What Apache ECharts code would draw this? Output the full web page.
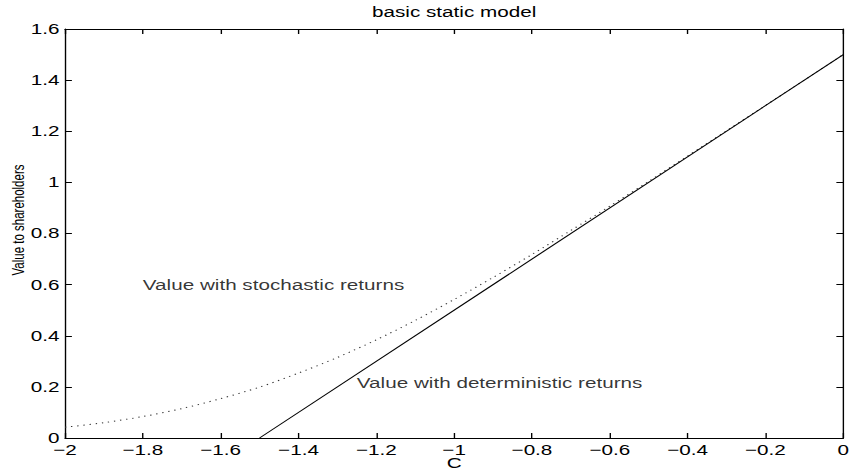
<!DOCTYPE html>
<html>
<head>
<meta charset="utf-8">
<script src="https://cdn.jsdelivr.net/npm/echarts@6/dist/echarts.min.js"></script>
<style>
  html, body { margin: 0; padding: 0; background: #fff; overflow: hidden; }
  /* the original figure is stretched sideways, so draw narrow and widen it */
  #chart { width: 617px; height: 471px; transform: scaleX(1.3792); transform-origin: 0 0; }
</style>
</head>
<body>
<div id="chart"></div>
<script>
// C values (x) and the two curves
const cValues = [-2, -1.9, -1.8, -1.7, -1.6, -1.5, -1.4, -1.3, -1.2, -1.1, -1, -0.9, -0.8, -0.7, -0.6, -0.5, -0.4, -0.3, -0.2, -0.1, 0];
const stochastic = [0.042, 0.060, 0.084, 0.115, 0.154, 0.199, 0.254, 0.315, 0.384, 0.460, 0.542, 0.628, 0.718, 0.812, 0.907, 1.004, 1.103, 1.202, 1.301, 1.400, 1.500];
const detC = [-1.5, 0];
const detValue = [0, 1.5];

const xTicks = { min: -2, max: 0, interval: 0.2 };
const yTicks = { min: 0, max: 1.6, interval: 0.2 };

const labelText = ['Value with stochastic returns', 'Value with deterministic returns'];
const labelC = [-1.8, -1.25];
const labelValue = [0.6, 0.215];

const font = 'Liberation Sans, Arial, Helvetica, sans-serif';
const scaleX = 1.3792;

const chart = echarts.init(document.getElementById('chart'), null, { renderer: 'svg' });

const minus = v => String(v).replace('-', '\u2212');

const axisBase = {
  type: 'value',
  axisLine: { show: true, onZero: false, lineStyle: { color: '#000', width: 1 } },
  axisTick: { show: true, inside: true, length: 5, lineStyle: { color: '#000' } },
  splitLine: { show: false }
};

chart.setOption({
  animation: false,
  backgroundColor: '#fff',
  grid: {
    left: 65 / scaleX, right: 7.7 / scaleX, top: 29, bottom: 33,
    containLabel: false, outerBoundsMode: 'none'
  },
  graphic: [
    {
      type: 'text',
      x: (65 + 843.3) / 2 / scaleX,
      y: 12,
      style: { text: 'basic static model', font: '15px ' + font, fill: '#000', align: 'center', verticalAlign: 'middle' }
    },
    {
      type: 'text',
      x: 18.5 / scaleX,
      y: 220,
      rotation: Math.PI / 2,
      style: { text: 'Value to shareholders', font: '11.5px ' + font, fill: '#000', align: 'center', verticalAlign: 'middle' }
    }
  ],
  xAxis: [
    Object.assign({}, axisBase, xTicks, {
      position: 'bottom',
      name: 'C',
      nameLocation: 'middle',
      nameGap: 20,
      nameMoveOverlap: false,
      nameTextStyle: { color: '#000', fontSize: 15, fontFamily: font, lineHeight: 11 },
      axisLabel: { color: '#000', fontSize: 15, fontFamily: font, lineHeight: 11, margin: 7, formatter: minus }
    }),
    Object.assign({}, axisBase, xTicks, { position: 'top', axisLabel: { show: false } })
  ],
  yAxis: [
    Object.assign({}, axisBase, yTicks, {
      position: 'left',
      axisLabel: { color: '#000', fontSize: 15, fontFamily: font, lineHeight: 10, margin: 4 }
    }),
    Object.assign({}, axisBase, yTicks, { position: 'right', axisLabel: { show: false } })
  ],
  series: [
    {
      name: 'stochastic',
      type: 'line',
      smooth: 0.3,
      showSymbol: false,
      lineStyle: { color: '#333', width: 1, type: [1, 3.5] },
      data: cValues.map((c, i) => [c, stochastic[i]])
    },
    {
      name: 'deterministic',
      type: 'line',
      showSymbol: false,
      lineStyle: { color: '#000', width: 1 },
      data: detC.map((c, i) => [c, detValue[i]])
    },
    {
      name: 'labels',
      type: 'scatter',
      symbolSize: 0,
      silent: true,
      label: {
        show: true,
        position: 'right',
        distance: 0,
        color: '#000',
        fontSize: 15,
        fontFamily: font,
        formatter: p => labelText[p.dataIndex]
      },
      data: labelC.map((c, i) => [c, labelValue[i]])
    }
  ]
});
</script>
</body>
</html>
